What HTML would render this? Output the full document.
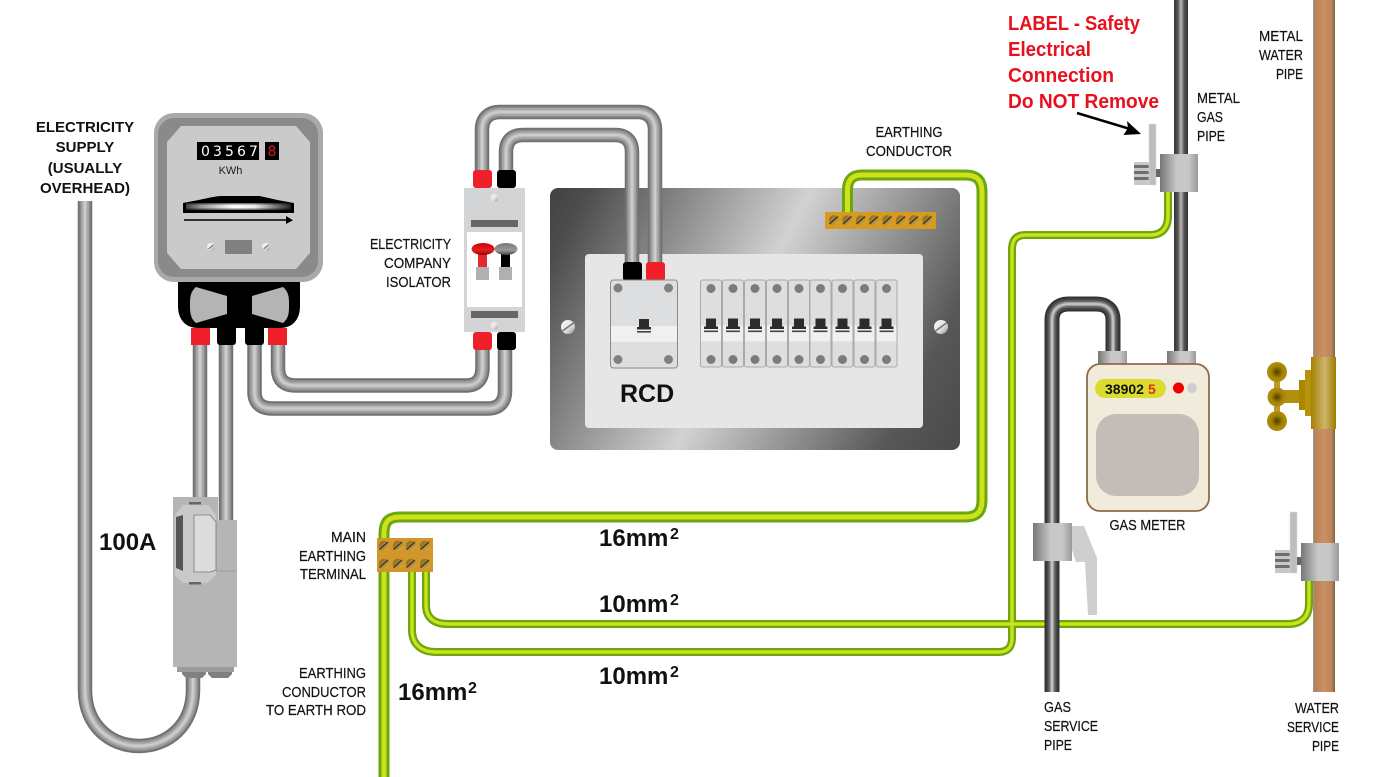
<!DOCTYPE html>
<html><head><meta charset="utf-8">
<style>
html,body{margin:0;padding:0;background:#fff;width:1380px;height:777px;overflow:hidden}
svg{display:block}
text{font-family:"Liberation Sans",sans-serif}
.l{font-size:14.5px;fill:#111;stroke:#111;stroke-width:.2}
.b{font-weight:bold;font-size:15px;fill:#111}
.n{font-weight:bold;font-size:25px;fill:#111}
.s{font-weight:bold;font-size:16px;fill:#111}
.r{font-weight:bold;font-size:20px;fill:#e8101c}
.e{text-anchor:end}.m{text-anchor:middle}
</style></head><body>
<svg width="1380" height="777" viewBox="0 0 1380 777" xmlns="http://www.w3.org/2000/svg">
<defs>
<linearGradient id="panel" gradientUnits="userSpaceOnUse" x1="550" y1="188" x2="979" y2="413">
<stop offset="0" stop-color="#424242"/><stop offset=".07" stop-color="#4c4c4c"/><stop offset=".48" stop-color="#d2d2d2"/><stop offset=".86" stop-color="#575757"/><stop offset="1" stop-color="#4a4a4a"/>
</linearGradient>
<linearGradient id="slot" x1="0" y1="0" x2="1" y2="0"><stop offset="0" stop-color="#444"/><stop offset=".15" stop-color="#999"/><stop offset=".45" stop-color="#fff"/><stop offset=".65" stop-color="#eee"/><stop offset="1" stop-color="#222"/></linearGradient>
<linearGradient id="clamp" x1="0" y1="0" x2="1" y2="0"><stop offset="0" stop-color="#777"/><stop offset=".45" stop-color="#c8c8c8"/><stop offset=".75" stop-color="#c8c8c8"/><stop offset="1" stop-color="#999"/></linearGradient>
<linearGradient id="dark" x1="0" y1="0" x2="1" y2="0"><stop offset="0" stop-color="#333"/><stop offset=".28" stop-color="#555"/><stop offset=".5" stop-color="#bbb"/><stop offset=".72" stop-color="#555"/><stop offset="1" stop-color="#333"/></linearGradient>
<linearGradient id="copper" x1="0" y1="0" x2="1" y2="0"><stop offset="0" stop-color="#999"/><stop offset=".08" stop-color="#b98058"/><stop offset=".5" stop-color="#cb9064"/><stop offset=".85" stop-color="#bd8258"/><stop offset="1" stop-color="#7d6045"/></linearGradient>
<linearGradient id="brass" x1="0" y1="0" x2="1" y2="0"><stop offset="0" stop-color="#a57f00"/><stop offset=".55" stop-color="#cdb56a"/><stop offset="1" stop-color="#a07c00"/></linearGradient>
<radialGradient id="knob"><stop offset="0" stop-color="#4f3b00"/><stop offset=".6" stop-color="#a58400"/><stop offset="1" stop-color="#b08c10"/></radialGradient>
<linearGradient id="scr" x1="0" y1="0" x2="1" y2="1"><stop offset="0" stop-color="#fff"/><stop offset=".6" stop-color="#ddd"/><stop offset="1" stop-color="#888"/></linearGradient>
<linearGradient id="bsg" x1="0" y1="0" x2="1" y2="1"><stop offset="0" stop-color="#7a5f20"/><stop offset="1" stop-color="#e3b440"/></linearGradient>
<linearGradient id="sw" x1="0" y1="0" x2="0" y2="1"><stop offset="0" stop-color="#cc0000"/><stop offset=".6" stop-color="#e02020"/><stop offset="1" stop-color="#900"/></linearGradient>
<linearGradient id="sw2" x1="0" y1="0" x2="0" y2="1"><stop offset="0" stop-color="#777"/><stop offset=".6" stop-color="#999"/><stop offset="1" stop-color="#444"/></linearGradient>
<g id="screw"><circle r="7" fill="url(#scr)"/><path d="M-5.500 4 L5.500 -4" stroke="#777" stroke-width="1.600"/></g>
<g id="bs"><circle r="5.200" fill="url(#bsg)"/><path d="M-4.500 3.500 L4 -4" stroke="#333" stroke-width="1.200"/></g>
<g id="mcb">
<rect x=".5" y=".5" width="21" height="87" rx="2" fill="#dddee0" stroke="#aaa"/>
<rect x="1" y="46" width="20" height="16" fill="#f0f0f0"/>
<circle cx="11" cy="9" r="4.500" fill="#7b7b7b"/><circle cx="11" cy="80" r="4.500" fill="#7b7b7b"/>
<rect x="6" y="39" width="10" height="8" fill="#2c2c2c"/><rect x="4" y="47" width="14" height="2.500" fill="#2c2c2c"/><rect x="4" y="51" width="14" height="1.600" fill="#444"/>
</g>
<g id="bracket">
<rect x="15" y="38" width="16" height="23" fill="#c8c8c8"/>
<rect x="15" y="41" width="16" height="3" fill="#6e6e6e"/><rect x="15" y="47" width="16" height="3" fill="#6e6e6e"/><rect x="15" y="53" width="16" height="3" fill="#6e6e6e"/>
<rect x="30" y="0" width="7" height="61" fill="#bdbdbd" stroke="#ddd" stroke-width=".6"/>
<rect x="37" y="45" width="5" height="8" fill="#666"/>
</g>
<path id="psup" d="M85 201V690C85 725 110 746 139 746C168 746 193 725 193 690V672"/>
<path id="pv" d="M200 340V500M226 340V520"/>
<path id="plo" d="M278 340V368C278 380 284 385.500 296 385.500H466C477 385.500 482.500 379 482.500 368V345M254.500 340V392C254.500 403 261 408.500 272 408.500H488C499 408.500 505 402 505 391V345"/>
<path id="pup" d="M482 175V130C482 118 489 112 500 112H638C649 112 655 119 655 130V268M506 175V152C506 141 512 135 523 135H615C626 135 632 141 632 152V268"/>
<path id="pgas" d="M1113 354V320C1113 309 1106 304 1096 304H1069C1058 304 1052 310 1052 320V692"/>
<path id="e1" d="M847.500 214V190C847.500 180 852 175 862 175H965C977 175 982 180 982 192V500C982 512 977 517 965 517H400C388 517 384 522 384 534V777"/>
<path id="e2" d="M426 570V605C426 618 434 624 448 624H1288C1302 624 1309 616 1309 604V578M412 570V630C412 645 422 652 436 652H998C1008 652 1012 647 1012 638V250C1012 240 1016 235 1026 235H1150C1162 235 1168 228 1168 216V190"/>
<g id="pipe" fill="none">
</g>
</defs>

<!-- supply & meter cables -->
<g fill="none">
<g stroke="#707070" stroke-width="14.500"><use href="#psup"/><use href="#pv"/><use href="#plo"/></g>
<g stroke="#8a8a8a" stroke-width="11"><use href="#psup"/><use href="#pv"/><use href="#plo"/></g>
<g stroke="#a3a3a3" stroke-width="8"><use href="#psup"/><use href="#pv"/><use href="#plo"/></g>
<g stroke="#bbb" stroke-width="4.500"><use href="#psup"/><use href="#pv"/><use href="#plo"/></g>
<g stroke="#ccc" stroke-width="2"><use href="#psup"/><use href="#pv"/><use href="#plo"/></g>
</g>

<!-- panel -->
<rect x="550" y="188" width="410" height="262" rx="8" fill="url(#panel)"/>
<rect x="585" y="254" width="338" height="174" rx="4" fill="#e6e6e6"/>
<use href="#screw" x="568" y="327"/><use href="#screw" x="941" y="327"/>

<!-- upper cables -->
<g fill="none">
<use href="#pup" stroke="#707070" stroke-width="14.500"/>
<use href="#pup" stroke="#8a8a8a" stroke-width="11"/>
<use href="#pup" stroke="#a3a3a3" stroke-width="8"/>
<use href="#pup" stroke="#bbb" stroke-width="4.500"/>
<use href="#pup" stroke="#ccc" stroke-width="2"/>
</g>

<!-- earth wires -->
<g fill="none">
<use href="#e1" stroke="#6aa80e" stroke-width="11"/>
<use href="#e1" stroke="#cfe01c" stroke-width="5"/>
<use href="#e2" stroke="#6aa80e" stroke-width="8"/>
<use href="#e2" stroke="#cfe01c" stroke-width="3.400"/>
</g>

<!-- earth bar -->
<rect x="825" y="212" width="111" height="17" fill="#d89a1e"/>
<use href="#bs" x="834" y="220.500"/><use href="#bs" x="847.500" y="220.500"/><use href="#bs" x="861" y="220.500"/><use href="#bs" x="874" y="220.500"/><use href="#bs" x="887.500" y="220.500"/><use href="#bs" x="901" y="220.500"/><use href="#bs" x="914" y="220.500"/><use href="#bs" x="927.500" y="220.500"/>

<!-- main earth terminal -->
<rect x="377" y="538" width="56" height="34" fill="#d2962a"/>
<use href="#bs" x="384" y="546"/><use href="#bs" x="398" y="546"/><use href="#bs" x="411" y="546"/><use href="#bs" x="425" y="546"/>
<use href="#bs" x="384" y="564"/><use href="#bs" x="398" y="564"/><use href="#bs" x="411" y="564"/><use href="#bs" x="425" y="564"/>

<!-- RCD -->
<rect x="623" y="262" width="19" height="19" rx="3" fill="#000"/>
<rect x="646" y="262" width="19" height="19" rx="3" fill="#f0202a"/>
<rect x="610.500" y="280" width="67" height="88" rx="3" fill="#dddee0" stroke="#8a8a8a"/>
<rect x="611" y="326" width="66" height="16" fill="#f0f0f0"/>
<circle cx="618" cy="288" r="4.500" fill="#808080"/><circle cx="668.500" cy="288" r="4.500" fill="#808080"/><circle cx="618" cy="359.500" r="4.500" fill="#808080"/><circle cx="668.500" cy="359.500" r="4.500" fill="#808080"/>
<rect x="639" y="319" width="10" height="8" fill="#2c2c2c"/><rect x="637" y="327" width="14" height="2.500" fill="#2c2c2c"/><rect x="637" y="331" width="14" height="1.600" fill="#444"/>

<!-- MCBs -->
<use href="#mcb" x="700" y="279.500"/><use href="#mcb" x="722" y="279.500"/><use href="#mcb" x="744" y="279.500"/><use href="#mcb" x="766" y="279.500"/><use href="#mcb" x="788" y="279.500"/><use href="#mcb" x="809.500" y="279.500"/><use href="#mcb" x="831.500" y="279.500"/><use href="#mcb" x="853.500" y="279.500"/><use href="#mcb" x="875.500" y="279.500"/>

<!-- isolator -->
<rect x="473" y="170" width="19" height="18" rx="3" fill="#f0202a"/><rect x="497" y="170" width="19" height="18" rx="3" fill="#000"/>
<rect x="473" y="332" width="19" height="18" rx="3" fill="#f0202a"/><rect x="497" y="332" width="19" height="18" rx="3" fill="#000"/>
<rect x="464" y="188" width="61" height="144" fill="#d3d4d6"/>
<rect x="467" y="232" width="55" height="75" fill="#fff"/>
<rect x="471" y="220" width="47" height="7" fill="#666"/><rect x="471" y="311" width="47" height="7" fill="#666"/>
<circle cx="494.500" cy="198" r="3.800" fill="url(#scr)"/><circle cx="494.500" cy="326" r="3.800" fill="url(#scr)"/>
<rect x="478" y="254" width="9" height="14" fill="#e02a30"/><rect x="501" y="254" width="9" height="14" fill="#000"/>
<rect x="476" y="267" width="13" height="13" fill="#b0b0b0"/><rect x="499" y="267" width="13" height="13" fill="#b0b0b0"/>
<ellipse cx="483" cy="249" rx="11.500" ry="6" fill="url(#sw)"/><ellipse cx="506" cy="249" rx="11.500" ry="6" fill="url(#sw2)"/>

<!-- kWh meter -->
<path d="M178 278H300V306C300 320 292 328 280 328H198C186 328 178 320 178 306Z" fill="#000"/>
<path d="M196 287L227 296V314L196 323C190 318 190 312 190 305C190 298 190 292 196 287Z" fill="#b4b4b4"/>
<path d="M283 287L252 296V314L283 323C289 318 289 312 289 305C289 298 289 292 283 287Z" fill="#b4b4b4"/>
<rect x="191" y="328" width="19" height="17" fill="#f0202a"/>
<rect x="217" y="326" width="19" height="19" rx="3" fill="#000"/>
<rect x="245" y="326" width="19" height="19" rx="3" fill="#000"/>
<rect x="268" y="328" width="19" height="17" fill="#f0202a"/>
<rect x="154" y="113" width="169" height="169" rx="20" fill="#a9a9a9"/>
<rect x="158" y="118" width="160" height="159" rx="16" fill="#8a8a8a"/>
<path d="M181 126H296L310 142V253L296 269H181L167 253V142Z" fill="#cacaca"/>
<rect x="197" y="142" width="62" height="18" fill="#000"/>
<text x="201" y="156" font-size="14" fill="#fff" letter-spacing="3.100" style="font-family:'DejaVu Sans',sans-serif">03567</text>
<rect x="265" y="142" width="14" height="18" fill="#000"/>
<text x="272" y="156" font-size="14" fill="#e01818" text-anchor="middle" style="font-family:'DejaVu Sans',sans-serif">8</text>
<text x="230.500" y="174" class="m" font-size="11" fill="#222">KWh</text>
<path d="M183 203V213H294V203C270 199 262 196 258 196H222C215 196 205 199 183 203Z" fill="#000"/>
<rect x="186" y="203" width="105" height="7" fill="url(#slot)"/>
<rect x="186" y="203" width="105" height="1.500" fill="#000" opacity=".5"/><rect x="186" y="208.500" width="105" height="1.500" fill="#000" opacity=".5"/>
<path d="M184 220H287" stroke="#000" stroke-width="1.500"/><path d="M286 216L293 220.300L286 224Z" fill="#000"/>
<circle cx="211" cy="247" r="4" fill="url(#scr)"/><circle cx="266" cy="247" r="4" fill="url(#scr)"/>
<path d="M208.500 249L213.500 245M263.500 249L268.500 245" stroke="#666" stroke-width="1"/>
<rect x="225" y="240" width="27" height="14" fill="#808080"/>

<!-- fuse -->
<path d="M182 670H206V674L202 678H186L182 674ZM208 670H232V674L228 678H212L208 674Z" fill="#808080"/>
<rect x="177" y="665" width="57" height="7" fill="#9c9c9c"/>
<rect x="173" y="497" width="45" height="170" fill="#b5b5b5"/>
<rect x="218" y="520" width="19" height="147" fill="#b5b5b5"/>
<path d="M216 571H237" stroke="#999" stroke-width=".8"/>
<path d="M183 505H208L216 515V575L208 583H183L175 575V515Z" fill="#c9c9c9"/>
<path d="M176 517L183 515V571L176 568Z" fill="#555"/>
<path d="M194 515H210L216 522V570L210 572H194Z" fill="#dcdcdc" stroke="#777" stroke-width=".8"/>
<rect x="189" y="502" width="12" height="2.500" fill="#666"/><rect x="189" y="582" width="12" height="2.500" fill="#666"/>

<!-- gas pipes -->
<rect x="1174" y="0" width="14" height="354" fill="url(#dark)"/>
<g fill="none">
<use href="#pgas" stroke="#333" stroke-width="15"/>
<use href="#pgas" stroke="#484848" stroke-width="11"/>
<use href="#pgas" stroke="#6c6c6c" stroke-width="7"/>
<use href="#pgas" stroke="#9c9c9c" stroke-width="4"/>
<use href="#pgas" stroke="#c4c4c4" stroke-width="1.800"/>
</g>
<rect x="1098" y="351" width="29" height="14" fill="url(#clamp)"/><rect x="1167" y="351" width="29" height="14" fill="url(#clamp)"/>
<!-- gas meter -->
<rect x="1087" y="364" width="122" height="147" rx="13" fill="#f1ebdc" stroke="#8d6b48" stroke-width="1.800"/>
<rect x="1095" y="379" width="71" height="19" rx="9.500" fill="#dcdc30"/>
<text x="1105" y="394" font-size="14" font-weight="bold" fill="#111">38902</text>
<text x="1148" y="394" font-size="14" font-weight="bold" fill="#e03010">5</text>
<circle cx="1178.500" cy="388" r="5.500" fill="#f00000"/><circle cx="1192" cy="388" r="5" fill="#cfcfcf"/>
<rect x="1096" y="414" width="103" height="82" rx="20" fill="#c2bdb6"/>

<!-- clamps etc -->
<path d="M1072 526H1084L1097 558L1097 615H1088L1085 562H1076L1072 550Z" fill="#cfcfcf"/>
<rect x="1033" y="523" width="39" height="38" fill="url(#clamp)"/>
<use href="#bracket" x="1119" y="124"/>
<rect x="1160" y="154" width="38" height="38" fill="url(#clamp)"/>

<!-- copper pipe -->
<rect x="1313" y="0" width="22" height="692" fill="url(#copper)"/>
<use href="#bracket" x="1260" y="512"/>
<rect x="1301" y="543" width="38" height="38" fill="url(#clamp)"/>

<!-- valve -->
<rect x="1274" y="372" width="6" height="50" fill="#b89a30"/>
<rect x="1280" y="390" width="21" height="13" fill="#b0900c"/>
<rect x="1299" y="380" width="7" height="30" fill="#a98800"/>
<rect x="1305" y="370" width="7" height="46" fill="#b5930c"/>
<rect x="1311" y="357" width="25" height="72" fill="url(#brass)"/>
<circle cx="1277" cy="372" r="10" fill="url(#knob)"/><circle cx="1277" cy="397" r="9.500" fill="url(#knob)"/><circle cx="1277" cy="421" r="10" fill="url(#knob)"/>

<!-- arrow -->
<path d="M1077 113L1130 129" stroke="#000" stroke-width="2.500"/>
<path d="M1141 134L1123.500 135L1128 128L1127 121Z" fill="#000"/>

<!-- text -->
<text class="b m" x="85" y="132">ELECTRICITY</text><text class="b m" x="85" y="152">SUPPLY</text><text class="b m" x="85" y="173">(USUALLY</text><text class="b m" x="85" y="193">OVERHEAD)</text>
<g lengthAdjust="spacingAndGlyphs">
<text class="l e" x="451" y="249" textLength="81" lengthAdjust="spacingAndGlyphs">ELECTRICITY</text><text class="l e" x="451" y="268" textLength="67" lengthAdjust="spacingAndGlyphs">COMPANY</text><text class="l e" x="451" y="287" textLength="65" lengthAdjust="spacingAndGlyphs">ISOLATOR</text>
<text class="l m" x="909" y="137" textLength="67" lengthAdjust="spacingAndGlyphs">EARTHING</text><text class="l m" x="909" y="156" textLength="86" lengthAdjust="spacingAndGlyphs">CONDUCTOR</text>
<text class="l" x="1197" y="103" textLength="43" lengthAdjust="spacingAndGlyphs">METAL</text><text class="l" x="1197" y="122" textLength="26" lengthAdjust="spacingAndGlyphs">GAS</text><text class="l" x="1197" y="141" textLength="28" lengthAdjust="spacingAndGlyphs">PIPE</text>
<text class="l e" x="1303" y="41" textLength="44" lengthAdjust="spacingAndGlyphs">METAL</text><text class="l e" x="1303" y="60" textLength="44" lengthAdjust="spacingAndGlyphs">WATER</text><text class="l e" x="1303" y="79" textLength="27" lengthAdjust="spacingAndGlyphs">PIPE</text>
<text class="l m" x="1147.500" y="530" textLength="76" lengthAdjust="spacingAndGlyphs">GAS METER</text>
<text class="l" x="1044" y="712" textLength="27" lengthAdjust="spacingAndGlyphs">GAS</text><text class="l" x="1044" y="731" textLength="54" lengthAdjust="spacingAndGlyphs">SERVICE</text><text class="l" x="1044" y="750" textLength="28" lengthAdjust="spacingAndGlyphs">PIPE</text>
<text class="l e" x="1339" y="713" textLength="44" lengthAdjust="spacingAndGlyphs">WATER</text><text class="l e" x="1339" y="732" textLength="52" lengthAdjust="spacingAndGlyphs">SERVICE</text><text class="l e" x="1339" y="751" textLength="27" lengthAdjust="spacingAndGlyphs">PIPE</text>
<text class="l e" x="366" y="542" textLength="35" lengthAdjust="spacingAndGlyphs">MAIN</text><text class="l e" x="366" y="561" textLength="67" lengthAdjust="spacingAndGlyphs">EARTHING</text><text class="l e" x="366" y="579" textLength="66" lengthAdjust="spacingAndGlyphs">TERMINAL</text>
<text class="l e" x="366" y="678" textLength="67" lengthAdjust="spacingAndGlyphs">EARTHING</text><text class="l e" x="366" y="697" textLength="84" lengthAdjust="spacingAndGlyphs">CONDUCTOR</text><text class="l e" x="366" y="715" textLength="100" lengthAdjust="spacingAndGlyphs">TO EARTH ROD</text>
<text class="r" x="1008" y="30" textLength="132" lengthAdjust="spacingAndGlyphs">LABEL - Safety</text><text class="r" x="1008" y="56" textLength="83" lengthAdjust="spacingAndGlyphs">Electrical</text><text class="r" x="1008" y="82" textLength="106" lengthAdjust="spacingAndGlyphs">Connection</text><text class="r" x="1008" y="108" textLength="151" lengthAdjust="spacingAndGlyphs">Do NOT Remove</text>
</g>
<text class="n" x="620" y="402">RCD</text>
<text class="n" x="99" y="550" style="font-size:24px">100A</text>
<text class="n" x="599" y="546" style="font-size:24px">16mm</text><text class="s" x="670" y="539">2</text>
<text class="n" x="599" y="612" style="font-size:24px">10mm</text><text class="s" x="670" y="605">2</text>
<text class="n" x="599" y="684" style="font-size:24px">10mm</text><text class="s" x="670" y="677">2</text>
<text class="n" x="398" y="700" style="font-size:24px">16mm</text><text class="s" x="468" y="693">2</text>
</svg>
</body></html>
